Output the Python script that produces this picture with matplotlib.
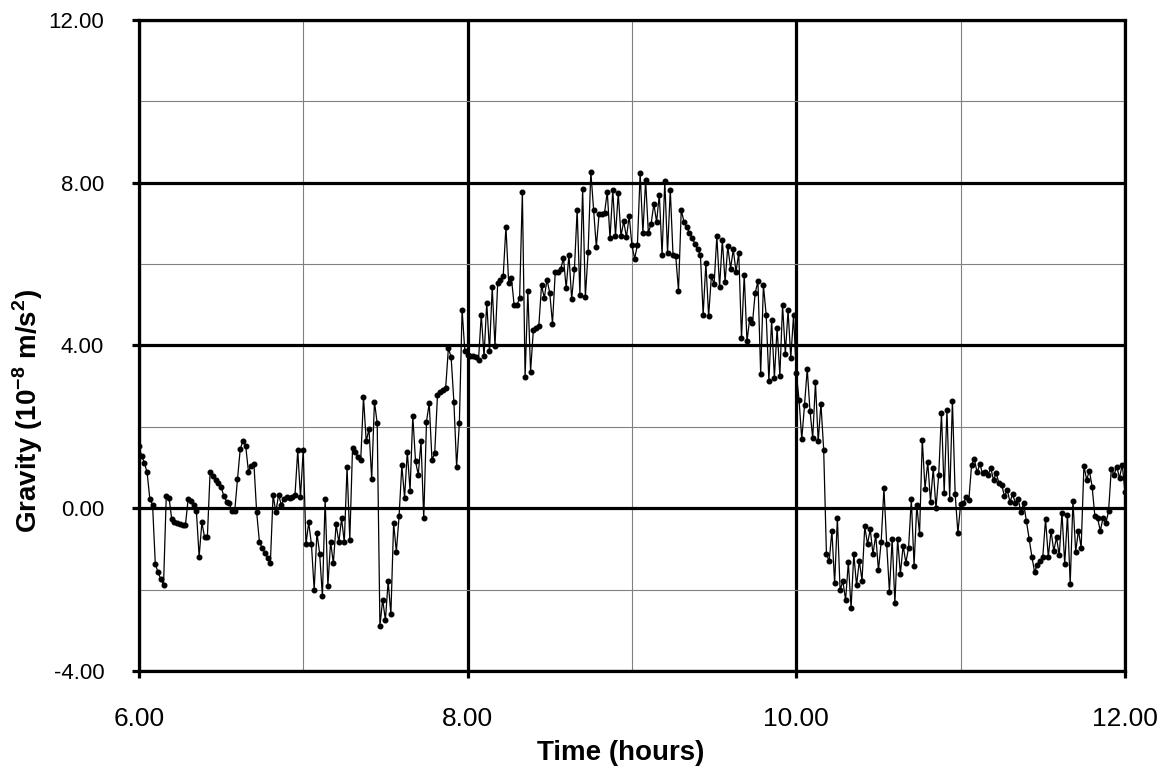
import numpy as np
import matplotlib.pyplot as plt
from matplotlib.ticker import MultipleLocator, FormatStrFormatter

plt.rcParams['font.family'] = ['Liberation Sans', 'DejaVu Sans']
plt.rcParams['mathtext.fontset'] = 'custom'
plt.rcParams['mathtext.rm'] = 'Liberation Sans'
plt.rcParams['mathtext.bf'] = 'Liberation Sans:bold'

# gravity readings (10^-8 m/s^2), one per minute
gravity_0600_0729 = [
    1.52, 1.29, 1.12, 0.88, 0.23, 0.08, -1.37, -1.58, -1.74, -1.90,
    0.30, 0.26, -0.27, -0.33, -0.37, -0.39, -0.41, -0.41, 0.23, 0.18,
    0.08, -0.08, -1.19, -0.35, -0.72, -0.72, 0.88, 0.78, 0.70, 0.61,
    0.53, 0.30, 0.16, 0.12, -0.08, -0.07, 0.71, 1.45, 1.66, 1.53,
    0.90, 1.04, 1.09, -0.10, -0.82, -0.98, -1.09, -1.23, -1.35, 0.33,
    -0.10, 0.33, 0.08, 0.23, 0.27, 0.25, 0.27, 0.33, 1.42, 0.27,
    1.43, -0.89, -0.35, -0.89, -2.01, -0.60, -1.12, -2.17, 0.23, -1.91,
    -0.82, -1.36, -0.39, -0.84, -0.25, -0.84, 1.01, -0.78, 1.48, 1.39,
    1.25, 1.19, 2.73, 1.64, 1.95, 0.71, 2.62, 2.09, -2.89, -2.25,
]
gravity_0730_0903 = [
    -2.75, -1.80, -2.61, -0.37, -1.07, -0.19, 1.05, 0.26, 1.39, 0.43,
    2.27, 1.15, 0.82, 1.64, -0.25, 2.13, 2.58, 1.19, 1.35, 2.77,
    2.85, 2.91, 2.95, 3.94, 3.71, 2.61, 1.01, 2.09, 4.88, 3.86,
    3.77, 3.75, 3.73, 3.71, 3.65, 4.76, 3.73, 5.05, 3.87, 5.43,
    3.98, 5.54, 5.62, 5.70, 6.92, 5.54, 5.66, 4.99, 4.99, 5.17,
    7.77, 3.22, 5.33, 3.36, 4.37, 4.43, 4.47, 5.48, 5.17, 5.62,
    5.29, 4.54, 5.80, 5.80, 5.88, 6.15, 5.41, 6.23, 5.14, 5.87,
    7.33, 5.25, 7.85, 5.19, 6.29, 8.27, 7.34, 6.42, 7.22, 7.24,
    7.26, 7.78, 6.63, 7.82, 6.69, 7.75, 6.69, 7.05, 6.66, 7.18,
    6.46, 6.13, 6.48, 8.24,
]
gravity_0904_1034 = [
    6.77, 8.06, 6.77, 6.99, 7.48, 7.04, 7.71, 6.23, 8.04, 6.28,
    7.83, 6.22, 6.19, 5.35, 7.33, 7.04, 6.91, 6.77, 6.64, 6.50,
    6.36, 6.23, 4.76, 6.03, 4.72, 5.70, 5.51, 6.69, 5.43, 6.60,
    5.56, 6.44, 5.89, 6.36, 5.81, 6.28, 4.18, 5.74, 4.10, 4.66,
    4.55, 5.29, 5.58, 3.30, 5.48, 4.76, 3.13, 4.63, 3.20, 4.43,
    3.26, 4.99, 3.80, 4.86, 3.69, 4.74, 3.32, 2.67, 1.70, 2.53,
    3.42, 2.40, 1.72, 3.10, 1.64, 2.57, 1.44, -1.12, -1.31, -0.56,
    -1.85, -0.25, -2.02, -1.79, -2.26, -1.33, -2.46, -1.13, -1.90, -1.30,
    -1.78, -0.45, -0.88, -0.52, -1.13, -0.66, -1.53, -0.82, 0.49, -0.88,
    -2.05,
]
gravity_1035_1200 = [
    -0.76, -2.34, -0.76, -1.62, -0.92, -1.34, -0.97, 0.22, -1.41, 0.08,
    -0.64, 1.68, 0.48, 1.13, 0.16, 0.98, 0.00, 0.82, 2.34, 0.37,
    2.42, 0.23, 2.64, 0.35, -0.61, 0.10, 0.12, 0.27, 0.20, 1.07,
    1.21, 0.88, 1.08, 0.86, 0.89, 0.82, 0.98, 0.70, 0.86, 0.61,
    0.57, 0.29, 0.45, 0.16, 0.34, 0.12, 0.23, -0.10, 0.12, -0.31,
    -0.75, -1.19, -1.57, -1.39, -1.30, -1.19, -0.27, -1.20, -0.56, -1.05,
    -0.72, -1.16, -0.11, -1.38, -0.16, -1.86, 0.18, -1.07, -0.55, -0.97,
    1.04, 0.70, 0.92, 0.53, -0.19, -0.25, -0.56, -0.23, -0.37, -0.08,
    0.96, 0.82, 1.02, 0.74, 1.07, 0.39,
]

gravity = gravity_0600_0729 + gravity_0730_0903 + gravity_0904_1034 + gravity_1035_1200

start_hour = 6.0
end_hour = 12.0
# one sample per minute
time_hours = np.linspace(start_hour, end_hour, len(gravity))

fig = plt.figure(figsize=(11.67, 7.72), dpi=100)
ax = fig.add_axes([0.119, 0.131, 0.845, 0.843])

ax.plot(time_hours, gravity, color='black', lw=0.9, marker='o', ms=3.3)

ax.set_xlim(6, 12)
ax.set_ylim(-4, 12)
ax.xaxis.set_major_locator(MultipleLocator(2))
ax.xaxis.set_minor_locator(MultipleLocator(1))
ax.yaxis.set_major_locator(MultipleLocator(4))
ax.yaxis.set_minor_locator(MultipleLocator(2))
ax.xaxis.set_major_formatter(FormatStrFormatter('%.2f'))
ax.yaxis.set_major_formatter(FormatStrFormatter('%.2f'))

ax.set_axisbelow(True)
ax.grid(which='major', color='black', lw=2.3)
ax.grid(which='minor', color='#808080', lw=0.8)
for side in ax.spines.values():
    side.set_linewidth(2.3)

ax.tick_params(which='major', direction='out', length=5, width=2.3)
ax.tick_params(axis='y', which='major', labelsize=16, pad=20)
ax.tick_params(axis='x', which='major', labelsize=19, pad=21)
ax.tick_params(which='minor', length=0)

ax.set_xlabel('Time (hours)', fontsize=20, fontweight='bold')
ax.xaxis.set_label_coords(0.489, -0.106)
ax.set_ylabel(r'Gravity (10$^{\mathbf{-8}}$ m/s$^{\mathbf{2}}$)', fontsize=20, fontweight='bold')
ax.yaxis.set_label_coords(-0.095, 0.40)

fig.savefig('out.png', dpi=100)
